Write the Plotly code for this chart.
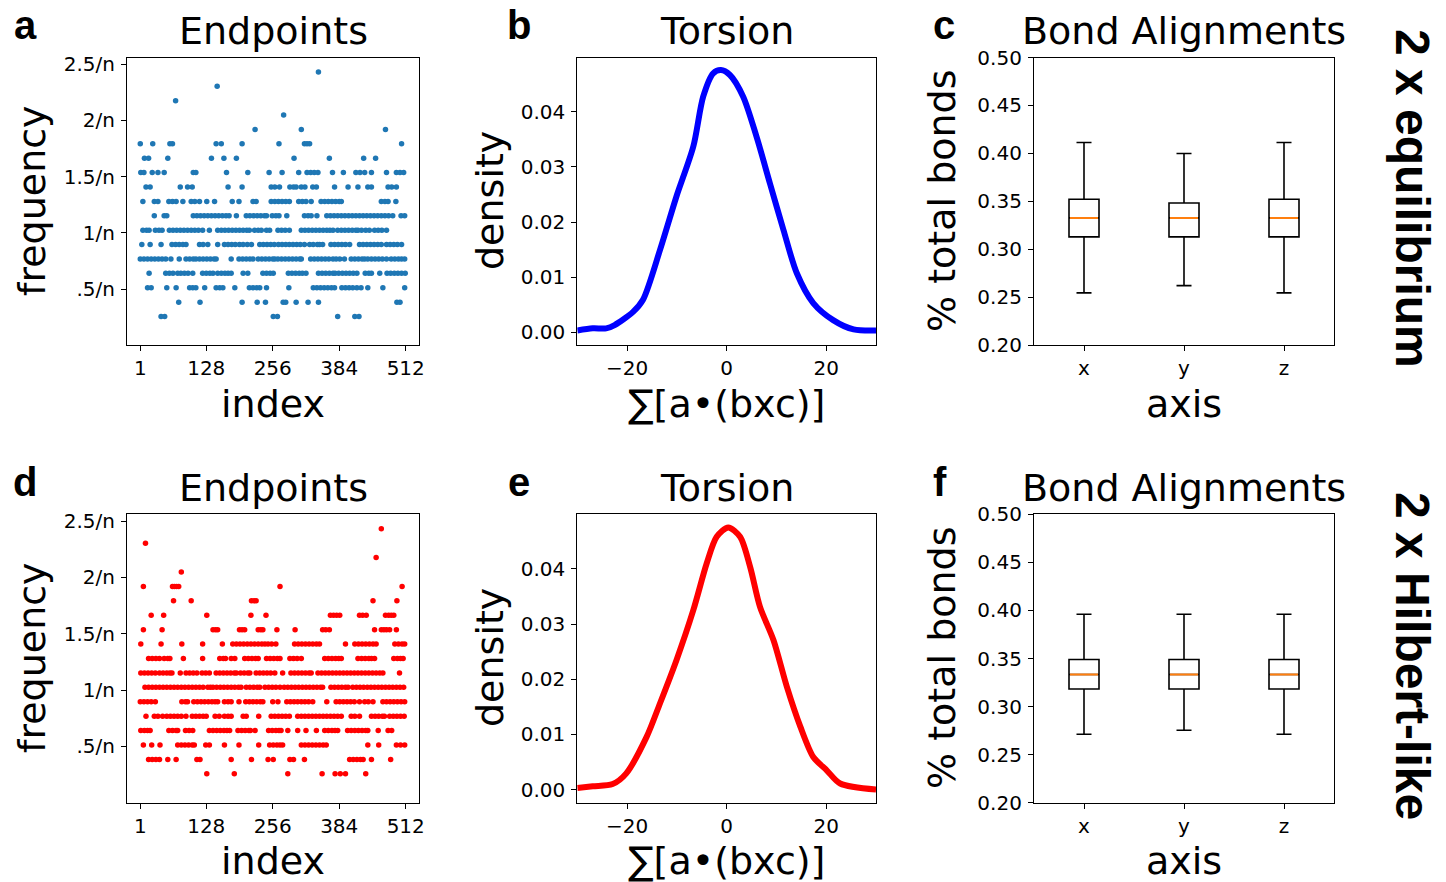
import plotly.graph_objects as go
from plotly.subplots import make_subplots

W, H = 1446, 882

# ---------------- data ----------------
# frequency levels (units of 1/n) for rows of dots
levels = [0.256, 0.384, 0.512, 0.640, 0.768, 0.896, 1.024, 1.152, 1.280,
          1.408, 1.536, 1.664, 1.792, 1.920, 2.048, 2.176, 2.304, 2.432]

# panel a: indices found at each frequency level (2 x equilibrium)
a_positions = [
    [41, 48, 257, 265, 381, 414, 422],
    [75, 116, 197, 226, 242, 276, 281, 301, 324, 344, 495, 501],
    [15, 22, 52, 70, 96, 102, 108, 125, 147, 154, 160, 183, 211, 218, 225, 231, 244, 287, 334, 341, 348, 355,
     362, 369, 375, 389, 396, 403, 410, 418, 426, 439, 468, 510],
    [18, 50, 57, 64, 73, 79, 86, 93, 102, 121, 128, 135, 141, 150, 157, 164, 170, 176, 199, 208, 237, 244, 251,
     257, 286, 293, 300, 307, 313, 320, 344, 351, 358, 365, 372, 376, 383, 390, 397, 404, 411, 418, 434, 441,
     446, 462, 476, 483, 490, 497, 504, 511],
    [1, 8, 15, 22, 29, 36, 43, 50, 60, 76, 89, 96, 103, 108, 115, 122, 129, 136, 143, 147, 176, 191, 198, 205,
     212, 218, 228, 235, 242, 249, 256, 260, 266, 273, 280, 287, 294, 301, 308, 311, 329, 336, 343, 350, 357,
     364, 372, 378, 385, 394, 407, 414, 421, 428, 433, 439, 446, 453, 460, 467, 475, 484, 491, 498, 504, 510],
    [4, 20, 41, 62, 69, 76, 83, 89, 115, 122, 131, 150, 163, 170, 177, 184, 192, 199, 207, 215, 231, 238, 245,
     252, 259, 267, 274, 281, 288, 295, 302, 309, 317, 327, 334, 342, 346, 352, 368, 375, 382, 389, 396, 404,
     423, 430, 437, 444, 451, 458, 465, 475, 482, 489, 496, 504],
    [6, 13, 18, 30, 37, 43, 57, 64, 71, 78, 85, 92, 99, 106, 113, 121, 134, 150, 157, 164, 171, 178, 185, 192,
     199, 206, 211, 221, 228, 234, 244, 250, 266, 273, 280, 288, 311, 318, 325, 332, 339, 346, 353, 360, 366,
     372, 381, 388, 395, 402, 409, 416, 420, 427, 435, 442, 452, 459, 466, 475],
    [28, 47, 52, 103, 110, 117, 124, 131, 138, 145, 152, 159, 166, 172, 186, 205, 212, 219, 226, 233, 240, 244,
     255, 262, 268, 283, 317, 324, 330, 341, 360, 367, 374, 381, 388, 395, 402, 409, 416, 423, 430, 437, 444,
     451, 458, 465, 472, 479, 487, 503, 510],
    [6, 28, 35, 56, 63, 70, 83, 99, 106, 115, 129, 144, 178, 191, 218, 224, 253, 260, 267, 274, 281, 288, 306,
     313, 320, 330, 349, 356, 363, 370, 377, 384, 388, 465, 472, 478, 493],
    [12, 20, 78, 92, 101, 170, 197, 253, 260, 269, 289, 296, 301, 311, 318, 333, 340, 375, 401, 420, 439, 446,
     478, 485, 494],
    [2, 8, 24, 35, 47, 103, 108, 167, 208, 249, 274, 306, 322, 329, 336, 343, 371, 392, 416, 424, 433, 446,
     475, 494, 501, 508],
    [9, 17, 54, 138, 162, 186, 297, 365, 431, 454],
    [1, 25, 58, 63, 147, 157, 197, 268, 317, 322, 327, 504],
    [222, 311, 473],
    [277],
    [69],
    [149],
    [344],
]

# panel d: indices found at each frequency level (2 x Hilbert-like)
d_positions = [
    [129, 182, 285, 351, 376, 386, 396, 435],
    [17, 24, 31, 38, 54, 70, 110, 116, 176, 215, 247, 257, 289, 296, 317, 404, 411, 418, 425, 430, 446, 483],
    [7, 23, 39, 73, 80, 87, 94, 101, 105, 127, 134, 163, 191, 229, 250, 257, 264, 270, 275, 311, 318, 325, 332,
     339, 346, 353, 359, 439, 460, 494, 502, 510],
    [2, 9, 15, 20, 56, 63, 70, 73, 88, 95, 102, 134, 141, 148, 155, 162, 168, 173, 189, 196, 203, 210, 213, 222,
     248, 255, 262, 268, 272, 285, 304, 320, 340, 356, 363, 370, 376, 381, 400, 407, 414, 421, 428, 435, 439,
     459, 478, 485],
    [12, 28, 35, 44, 52, 59, 66, 73, 80, 89, 101, 108, 115, 122, 128, 145, 153, 163, 170, 176, 199, 205, 229,
     253, 260, 267, 274, 281, 288, 304, 311, 318, 325, 332, 339, 346, 353, 360, 367, 374, 381, 388, 407, 414,
     423, 446, 453, 460, 467, 471, 481, 488, 495, 502, 509],
    [1, 8, 15, 22, 30, 81, 88, 92, 104, 111, 118, 125, 132, 139, 145, 150, 163, 170, 176, 191, 204, 211, 218,
     225, 232, 237, 256, 266, 283, 290, 297, 304, 311, 318, 325, 333, 360, 378, 385, 392, 399, 406, 413, 423,
     433, 440, 449, 468, 475, 482, 489, 496, 503, 510],
    [10, 17, 24, 31, 38, 45, 52, 59, 66, 73, 80, 87, 94, 101, 108, 115, 122, 131, 136, 141, 148, 155, 162, 169,
     176, 183, 190, 195, 205, 212, 219, 226, 231, 241, 248, 255, 262, 270, 278, 285, 292, 299, 306, 313, 320,
     327, 334, 341, 348, 352, 368, 375, 382, 389, 396, 401, 410, 417, 424, 431, 438, 445, 452, 459, 466, 473,
     480, 487, 494, 501, 508],
    [2, 9, 16, 23, 30, 38, 45, 52, 58, 62, 78, 89, 96, 103, 110, 120, 127, 134, 147, 154, 161, 168, 175, 182,
     186, 194, 201, 208, 212, 224, 231, 238, 245, 252, 260, 275, 291, 298, 305, 312, 319, 326, 330, 343, 350,
     357, 364, 371, 378, 385, 392, 399, 406, 413, 420, 427, 434, 441, 448, 455, 462, 468, 500],
    [17, 24, 31, 38, 47, 54, 58, 84, 121, 154, 161, 165, 176, 183, 202, 209, 216, 223, 228, 244, 251, 258, 265,
     270, 289, 296, 303, 311, 356, 363, 370, 377, 383, 388, 420, 427, 434, 441, 446, 452, 489, 496, 502, 507],
    [2, 41, 81, 121, 159, 179, 186, 193, 200, 207, 214, 221, 228, 235, 241, 247, 254, 262, 298, 305, 312, 319,
     326, 333, 340, 346, 396, 414, 421, 428, 435, 442, 449, 455, 491, 498, 505, 510],
    [7, 43, 141, 146, 150, 192, 197, 202, 228, 233, 237, 264, 299, 352, 358, 365, 452, 465, 470, 475, 481, 494],
    [22, 46, 129, 214, 243, 367, 373, 379, 385, 423, 429, 436, 473, 479, 484, 489],
    [65, 99, 215, 220, 224, 449, 495],
    [7, 63, 67, 71, 75, 270, 505],
    [80],
    [455],
    [11],
    [465],
]

index_ticks = [1, 128, 256, 384, 512]
freq_ticks = [0.5, 1.0, 1.5, 2.0, 2.5]
freq_ticktext = [".5/n", "1/n", "1.5/n", "2/n", "2.5/n"]

# torsion density curves
b_x = [-30, -26.9, -24.2, -22.5, -18.8, -16.8, -13.4, -10.1, -6.7, -4.7, -2.7, -1.15, 0.66, 3.3, 6.0, 8.7,
       11.4, 14.1, 17.4, 21.4, 25.5, 30]
b_y = [0.0003, 0.0007, 0.0007, 0.0013, 0.0037, 0.0059, 0.0149, 0.0246, 0.0337, 0.0428, 0.0470, 0.0476,
       0.0467, 0.0428, 0.0355, 0.0270, 0.0186, 0.0107, 0.0053, 0.0022, 0.0005, 0.0003]
e_x = [-30, -26.9, -22.9, -20.2, -16.1, -13.4, -10.1, -6.7, -4.0, -2.0, 0.33, 2.7, 4.7, 6.7, 9.4, 12.1,
       14.8, 17.4, 20.1, 22.8, 30]
e_y = [0.0003, 0.0006, 0.0010, 0.0029, 0.0095, 0.0156, 0.0234, 0.0325, 0.0410, 0.0458, 0.0475, 0.0458,
       0.0404, 0.0331, 0.0271, 0.0186, 0.0114, 0.0059, 0.0035, 0.0011, 0.0]

# bond alignment box statistics: x, y, z
axes_names = ["x", "y", "z"]
c_low = [0.2546, 0.2622, 0.2546]
c_q1 = [0.3130, 0.3130, 0.3130]
c_med = [0.3328, 0.3328, 0.3328]
c_q3 = [0.3523, 0.3484, 0.3523]
c_high = [0.4114, 0.3999, 0.4114]
f_low = [0.2712, 0.2753, 0.2712]
f_q1 = [0.3182, 0.3182, 0.3182]
f_med = [0.3334, 0.3334, 0.3334]
f_q3 = [0.3490, 0.3490, 0.3490]
f_high = [0.3960, 0.3960, 0.3960]

# ---------------- figure ----------------
fig = make_subplots(rows=2, cols=3)

TICKFONT = dict(family="DejaVu Sans", size=20, color="black")
BIG = dict(family="DejaVu Sans", size=38, color="black")
LETTER = dict(family="Liberation Sans", size=40, color="black")


def scatter_xy(positions):
    xs, ys = [], []
    for lvl, pos in zip(levels, positions):
        for p in pos:
            xs.append(p)
            ys.append(lvl)
    return xs, ys


ax, ay = scatter_xy(a_positions)
dx, dy = scatter_xy(d_positions)
fig.add_trace(go.Scatter(x=ax, y=ay, mode="markers", marker=dict(color="#1f77b4", size=5.5),
                         showlegend=False), row=1, col=1)
fig.add_trace(go.Scatter(x=dx, y=dy, mode="markers", marker=dict(color="#ff0000", size=5.5),
                         showlegend=False), row=2, col=1)

fig.add_trace(go.Scatter(x=b_x, y=b_y, mode="lines", line=dict(color="#0000ff", width=6, shape="spline",
                                                             smoothing=0.8), showlegend=False), row=1, col=2)
fig.add_trace(go.Scatter(x=e_x, y=e_y, mode="lines", line=dict(color="#ff0000", width=6, shape="spline",
                                                             smoothing=0.8), showlegend=False), row=2, col=2)

BOXW = 0.3
for (low, q1, med, q3, high, r) in [(c_low, c_q1, c_med, c_q3, c_high, 1), (f_low, f_q1, f_med, f_q3, f_high, 2)]:
    fig.add_trace(go.Box(x=[1, 2, 3], lowerfence=low, q1=q1, median=med, q3=q3, upperfence=high,
                         width=BOXW, whiskerwidth=0.5, fillcolor="white",
                         line=dict(color="black", width=1.6), showlegend=False, boxpoints=False),
                  row=r, col=3)
    mx, my = [], []
    for i, m in enumerate(med):
        mx += [i + 1 - BOXW / 2 + 0.01, i + 1 + BOXW / 2 - 0.01, None]
        my += [m, m, None]
    fig.add_trace(go.Scatter(x=mx, y=my, mode="lines", line=dict(color="#ff7f0e", width=2),
                             showlegend=False), row=r, col=3)


def px2x(p):
    return p / W


def px2y(p):
    return 1 - p / H


# domains in pixels
cols_px = [(127, 419), (577.3, 876), (1034, 1334)]
rows_px = [(57.5, 345.3), (514.3, 802.7)]

axis_common = dict(showline=True, linecolor="black", linewidth=1.2, mirror=True, ticks="outside",
                   ticklen=5, tickwidth=1.2, tickcolor="black", showgrid=False, zeroline=False,
                   tickfont=TICKFONT, automargin=False)

for r in range(2):
    for c in range(3):
        n = r * 3 + c + 1
        xa = "xaxis" if n == 1 else f"xaxis{n}"
        ya = "yaxis" if n == 1 else f"yaxis{n}"
        x0, x1 = cols_px[c]
        y0, y1 = rows_px[r]
        fig.layout[xa].update(domain=[px2x(x0), px2x(x1)], **axis_common)
        fig.layout[ya].update(domain=[px2y(y1), px2y(y0)], ticklabelstandoff=2, **axis_common)
        if c == 0:
            fig.layout[xa].update(range=[-24.55, 537.55], tickvals=index_ticks, ticktext=[str(t) for t in index_ticks])
            fig.layout[ya].update(range=[0, 2.56], tickvals=freq_ticks, ticktext=freq_ticktext)
        elif c == 1:
            fig.layout[xa].update(range=[-30, 30], tickvals=[-20, 0, 20], ticktext=["\u221220", "0", "20"])
            fig.layout[ya].update(range=[-0.002375, 0.049875], tickvals=[0, 0.01, 0.02, 0.03, 0.04],
                                  tickformat=".2f")
        else:
            fig.layout[xa].update(range=[0.5, 3.5], tickvals=[1, 2, 3], ticktext=axes_names)
            fig.layout[ya].update(range=[0.2, 0.5], tickvals=[0.2, 0.25, 0.3, 0.35, 0.4, 0.45, 0.5],
                                  tickformat=".2f")

annotations = []


def ann(text, x, y, font, angle=0, bold=False):
    annotations.append(dict(text=(f"<b>{text}</b>" if bold else text), x=px2x(x), y=px2y(y),
                            xref="paper", yref="paper", showarrow=False, xanchor="center",
                            yanchor="middle", font=font, textangle=angle))


titles = ["Endpoints", "Torsion", "Bond Alignments"]
xtitles = ["index", "\u2211[a\u2022(bxc)]", "axis"]
ytitles = ["frequency", "density", "% total bonds"]
ytitle_x = [32, 490, 942]
letters = [["a", "b", "c"], ["d", "e", "f"]]
letter_x = [[25, 519, 944], [25, 519, 940]]

for r in range(2):
    off = r * 457
    for c in range(3):
        x0, x1 = cols_px[c]
        cx = (x0 + x1) / 2
        ann(titles[c], cx, 31 + off, BIG)
        ann(xtitles[c], cx, 404 + off, BIG)
        ann(ytitles[c], ytitle_x[c], 201 + off, BIG, angle=-90)
        ann(letters[r][c], letter_x[r][c], 25 + off, LETTER, bold=True)

RIGHT = dict(family="Liberation Sans", size=48, color="black")
ann("2 x equilibrium", 1413, 198, RIGHT, angle=90, bold=True)
ann("2 x Hilbert-like", 1413, 656, RIGHT, angle=90, bold=True)

fig.update_layout(template="none", width=W, height=H, autosize=False,
                  margin=dict(l=0, r=0, t=0, b=0, pad=0, autoexpand=False),
                  paper_bgcolor="white", plot_bgcolor="white", annotations=annotations,
                  showlegend=False)

fig.write_html("out.html", config={"responsive": False, "displayModeBar": False},
               post_script="document.body.style.margin='0';document.body.style.overflow='hidden';")
